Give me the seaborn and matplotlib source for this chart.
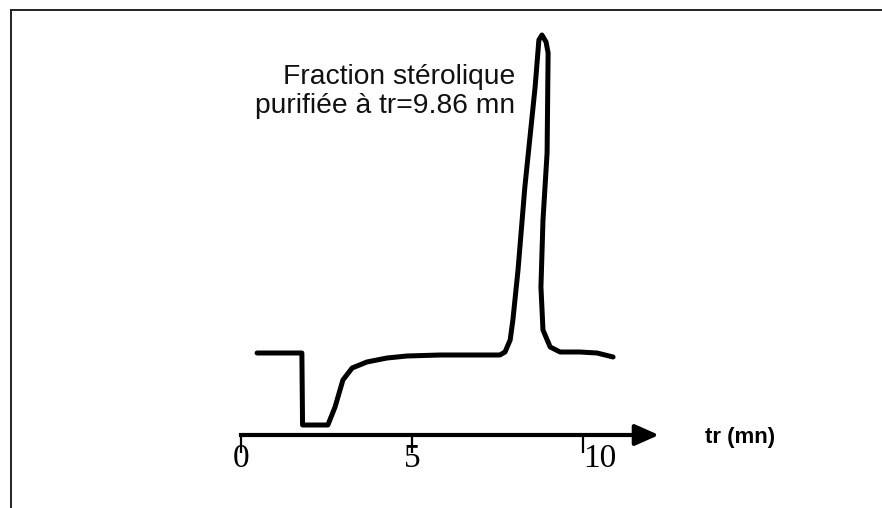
import matplotlib
matplotlib.use("Agg")
import matplotlib.pyplot as plt
import seaborn as sns

# Data (retention time in min, detector signal in arbitrary units)
time_mn = [0.47, 1.78, 1.80, 2.54, 2.75, 2.98, 3.25, 3.68, 4.27, 4.85, 5.82, 7.57,
           7.72, 7.87, 7.95, 8.10, 8.30, 8.45, 8.60, 8.71, 8.80, 8.92, 8.98,
           8.95, 8.83, 8.77, 8.83, 9.04, 9.33, 9.91, 10.41, 10.88]
signal = [8.2, 8.2, 1.0, 1.0, 2.8, 5.5, 6.7, 7.3, 7.7, 7.9, 8.0, 8.0,
          8.3, 9.5, 11.5, 16.5, 24.8, 29.8, 34.8, 39.5, 40.0, 39.3, 38.2,
          28.2, 21.5, 14.8, 10.5, 8.8, 8.3, 8.3, 8.2, 7.8]
tick_values = [0, 5, 10]
tick_labels = ["0", "5", "10"]
annotation = "Fraction stérolique\npurifiée à tr=9.86 mn"
axis_title = "tr (mn)"

sns.set_style("white")
plt.rcParams["font.family"] = ["Liberation Sans", "DejaVu Sans"]

W, H = 882, 508
fig = plt.figure(figsize=(W / 100, H / 100), dpi=100)
ax = fig.add_axes([11 / W, 0, (W - 11) / W, (H - 10) / H])

sns.lineplot(x=time_mn, y=signal, sort=False, estimator=None, color="black",
             lw=3.6, ax=ax, solid_joinstyle="round", solid_capstyle="round")

ax.set_xlim(-(241 - 11) / 34.2, (W - 241) / 34.2)
ax.set_ylim((435 - H) / 10, (435 - 10) / 10)

# frame: top and left only
for s in ["top", "left"]:
    ax.spines[s].set_visible(True)
    ax.spines[s].set_color("#222222")
    ax.spines[s].set_linewidth(1.4)
ax.spines["right"].set_visible(False)
ax.spines["bottom"].set_position(("data", 0))
ax.spines["bottom"].set_bounds(0, 11.8)
ax.spines["bottom"].set_linewidth(3)
ax.spines["bottom"].set_color("black")

ax.annotate("", xy=(12.22, 0), xytext=(11.6, 0),
            arrowprops=dict(arrowstyle="-|>,head_length=0.9,head_width=0.4",
                            color="black", lw=3, mutation_scale=16,
                            shrinkA=0, shrinkB=0))

ax.set_yticks([])
ax.set_xticks(tick_values)
ax.set_xticklabels(tick_labels, fontfamily="Liberation Serif", fontsize=24,
                   color="black")
ax.tick_params(axis="x", direction="out", length=13, width=1.6, color="black",
               pad=-7, bottom=True)
lbls = ax.get_xticklabels()
lbls[-1].set_horizontalalignment("left")

ax.text((515 - 241) / 34.2, (435 - 64) / 10, annotation, ha="right", va="top",
        fontsize=20.3, linespacing=1.15, color="#111111")
ax.text((705 - 241) / 34.2, (435 - 437) / 10, axis_title, ha="left", va="center",
        fontsize=16, fontweight="bold", color="black")

fig.savefig("out.png", dpi=100)
